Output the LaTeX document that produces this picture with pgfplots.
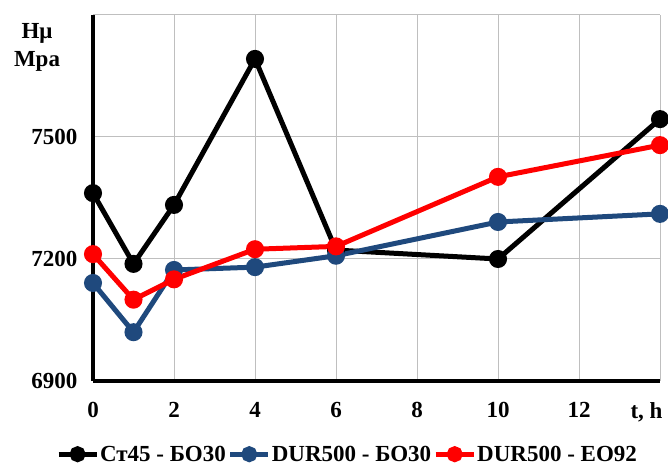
\documentclass[border=0pt]{standalone}
\usepackage{fontspec}
\setmainfont{Liberation Serif}
\usepackage{pgfplots}
\pgfplotsset{compat=1.18}
\definecolor{dblue}{RGB}{31,73,125}
\definecolor{gridgray}{RGB}{191,191,191}
\begin{document}
\begin{tikzpicture}
\path[use as bounding box] (0,0) rectangle (668pt,468pt);
\begin{axis}[
  at={(93pt,87pt)}, anchor=south west,
  width=567pt, height=366pt, scale only axis,
  xmin=0, xmax=14, ymin=6900, ymax=7800,
  axis x line*=bottom, axis y line*=left,
  axis line style={line width=4pt, -},
  xtick={0,2,...,14}, xticklabels={0,2,4,6,8,10,12,{}},
  ytick={6900,7200,7500,7800}, yticklabels={6900,7200,7500,{}},
  major tick length=0pt,
  grid=major, major grid style={gridgray, line width=1pt},
  /pgf/number format/assume math mode=true,
  ticklabel style={font=\bfseries\fontsize{23}{23}\selectfont},
  xticklabel style={yshift=-18pt},
  yticklabel style={xshift=-12pt},
  clip=false,
  every axis plot/.append style={line width=5pt, mark=*, mark size=6.5pt},
  legend columns=3,
  legend style={at={(axis description cs:0.448,-0.2)}, anchor=center, draw=none,
    font=\bfseries\fontsize{23}{23}\selectfont, inner sep=0pt,
    nodes={inner xsep=1pt, inner ysep=0pt},
    /tikz/every even column/.append style={column sep=1pt}},
  legend image code/.code={\draw[mark repeat=2,mark phase=2,#1,mark size=5.5pt] plot coordinates {(0pt,0pt) (19pt,0pt) (38pt,0pt)};},
]
\addplot[black, mark options={fill=black}] coordinates {(0,7362)(1,7188)(2,7333)(4,7692)(6,7222)(10,7200)(14,7544)};
\addlegendentry{Ст45 - БО30}
\addplot[dblue, mark options={fill=dblue}] coordinates {(0,7141)(1,7020)(2,7173)(4,7180)(6,7208)(10,7291)(14,7311)};
\addlegendentry{DUR500 - БО30}
\addplot[red, mark options={fill=red}] coordinates {(0,7212)(1,7100)(2,7150)(4,7224)(6,7231)(10,7402)(14,7480)};
\addlegendentry{DUR500 - EO92}
\end{axis}
\node[font=\bfseries\fontsize{23}{28}\selectfont, align=center] at (37pt,421pt) {Hμ\\Mpa};
\node[font=\bfseries\fontsize{23}{23}\selectfont, anchor=east] at (666pt,56pt) {t, h};
\end{tikzpicture}
\end{document}
